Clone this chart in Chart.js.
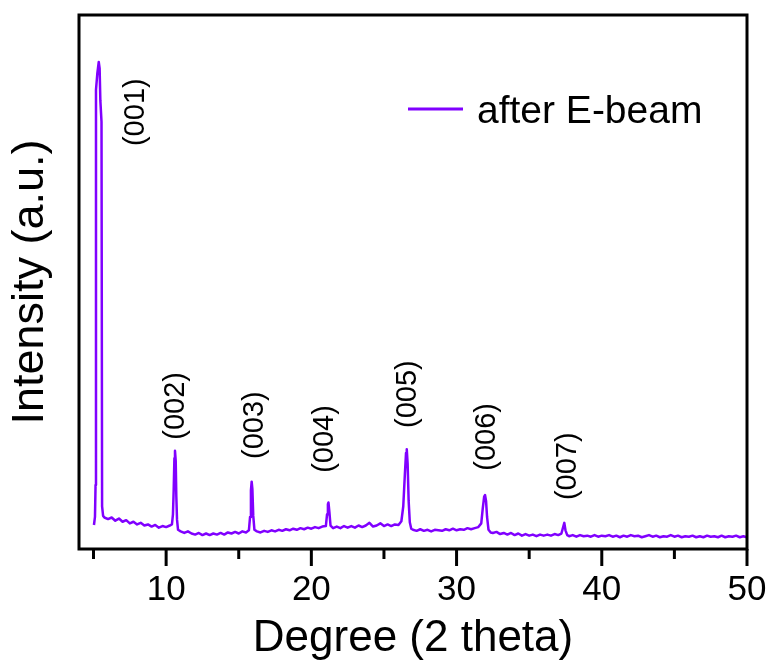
<!DOCTYPE html>
<html>
<head>
<meta charset="utf-8">
<script src="https://cdn.jsdelivr.net/npm/chart.js@4.4.0/dist/chart.umd.min.js"></script>
<style>
body { margin: 0; background: #fff; }
</style>
</head>
<body>
<canvas id="xrd" width="772" height="661"></canvas>
<script>
// 2 theta (deg) and intensity (a.u.)
var twoTheta = [
    5.03, 5.10, 5.14, 5.17, 5.26, 5.36, 5.42, 5.47, 5.55, 5.59, 5.66,
    5.75, 6.0, 6.25, 6.5, 6.75, 7.0, 7.25, 7.5, 7.75, 8.0, 8.25, 8.5, 8.75, 9.0, 9.25, 9.5, 9.75, 10.0, 10.25,
    10.40, 10.47, 10.52, 10.57, 10.61, 10.66, 10.70, 10.75, 10.82,
    11.0, 11.25, 11.5, 11.75, 12.0, 12.25, 12.5, 12.75, 13.0, 13.25, 13.5, 13.75, 14.0, 14.25, 14.5, 14.75, 15.0, 15.25, 15.5, 15.7,
    15.78, 15.84, 15.89, 15.94, 16.0, 16.08,
    16.25, 16.5, 16.75, 17.0, 17.25, 17.5, 17.75, 18.0, 18.25, 18.5, 18.75, 19.0, 19.25, 19.5, 19.75, 20.0, 20.25, 20.5, 20.75, 21.0,
    21.08, 21.14, 21.18, 21.24, 21.32,
    21.5, 21.75, 22.0, 22.25, 22.5, 22.75, 23.0, 23.25, 23.5, 23.75, 24.0, 24.25, 24.5, 24.75, 25.0, 25.25, 25.5, 25.75, 26.0, 26.2,
    26.33, 26.44, 26.52, 26.57, 26.63, 26.70, 26.78, 26.88,
    27.0, 27.25, 27.5, 27.75, 28.0, 28.25, 28.5, 28.75, 29.0, 29.25, 29.5, 29.75, 30.0, 30.25, 30.5, 30.75, 31.0, 31.25, 31.5, 31.7,
    31.8, 31.9, 31.96, 32.03, 32.1, 32.2,
    32.35, 32.5, 32.75, 33.0, 33.25, 33.5, 33.75, 34.0, 34.25, 34.5, 34.75, 35.0, 35.25, 35.5, 35.75, 36.0, 36.25, 36.5, 36.75, 37.0, 37.22,
    37.34, 37.42, 37.5, 37.62,
    37.75, 38.0, 38.25, 38.5, 38.75, 39.0, 39.25, 39.5, 39.75, 40.0, 40.25, 40.5, 40.75, 41.0, 41.25, 41.5, 41.75, 42.0, 42.25, 42.5, 42.75,
    43.0, 43.25, 43.5, 43.75, 44.0, 44.25, 44.5, 44.75, 45.0, 45.25, 45.5, 45.75, 46.0, 46.25, 46.5, 46.75, 47.0, 47.25, 47.5, 47.75,
    48.0, 48.25, 48.5, 48.75, 49.0, 49.25, 49.5, 49.75, 50.0
];
var intensity = [
    4.5, 6.0, 12, 86, 89, 91.2, 90, 84, 80, 8, 6.2,
    5.9, 5.6, 5.9, 5.3, 5.7, 5.1, 5.4, 4.8, 5.1, 4.6, 4.9, 4.4, 4.6, 4.2, 4.5, 4.0, 4.3, 4.1, 4.4,
    4.6, 6.5, 11, 17, 18.4, 16.5, 10, 5.5, 3.6,
    3.3, 3.0, 3.3, 2.9, 2.7, 3.0, 2.6, 2.9, 2.6, 2.9, 2.7, 3.0, 2.7, 3.1, 2.9, 3.2, 2.9, 3.3, 3.1, 3.5,
    6, 11, 12.6, 11.2, 6.2, 3.6,
    3.3, 3.1, 3.4, 3.2, 3.5, 3.3, 3.6, 3.4, 3.7, 3.5, 3.8, 3.6, 3.9, 3.7, 4.0, 3.8, 4.1, 3.9, 4.2, 4.3,
    6.5, 8.4, 8.7, 7, 4.4,
    3.9, 4.2, 3.9, 4.3, 4.0, 4.3, 4.0, 4.4, 4.1, 4.4, 4.9, 4.2, 4.4, 4.8, 4.3, 4.6, 4.3, 4.6, 4.5, 5.2,
    8, 14, 18, 18.7, 16, 9, 5, 3.8,
    3.6, 3.4, 3.7, 3.4, 3.6, 3.3, 3.6, 3.5, 3.4, 3.7, 3.5, 3.8, 3.5, 3.7, 3.6, 3.9, 3.7, 3.9, 4.1, 4.8,
    7.5, 9.8, 10.1, 9, 6, 3.6,
    3.1, 3.0, 3.2, 2.8, 3.0, 2.7, 3.0, 2.6, 2.9, 2.5, 2.8, 2.5, 2.7, 2.4, 2.7, 2.5, 2.7, 2.5, 2.8, 2.6, 2.9,
    4.1, 4.9, 3.5, 2.6,
    2.4, 2.6, 2.3, 2.6, 2.4, 2.5, 2.3, 2.6, 2.3, 2.5, 2.4, 2.6, 2.3, 2.5, 2.2, 2.5, 2.3, 2.6, 2.4, 2.5, 2.2,
    2.4, 2.6, 2.3, 2.5, 2.2, 2.4, 2.3, 2.6, 2.3, 2.5, 2.2, 2.4, 2.3, 2.5, 2.2, 2.4, 2.2, 2.5, 2.3, 2.4,
    2.2, 2.5, 2.2, 2.4, 2.3, 2.5, 2.2, 2.4, 2.2
];

// peak indexing labels and where they sit (data units)
var peakLabels = ['(001)', '(002)', '(003)', '(004)', '(005)', '(006)', '(007)'];
var labelX = [7.93, 10.68, 16.12, 20.94, 26.66, 32.1, 37.68];
var labelY = [81.8, 26.8, 23.2, 20.6, 29.0, 21.0, 15.5];

var xTicks = [5, 10, 15, 20, 25, 30, 35, 40, 45, 50];

var purple = '#8000ff';
var fontFam = '"Liberation Sans", Arial, sans-serif';

var points = [];
for (var i = 0; i < twoTheta.length; i++) {
    points.push({ x: twoTheta[i], y: intensity[i] });
}

var extras = {
    id: 'extras',
    afterDraw: function (chart) {
        var ctx = chart.ctx;
        var a = chart.chartArea;
        var xs = chart.scales.x;
        var ys = chart.scales.y;
        ctx.save();

        // frame
        ctx.strokeStyle = '#000';
        ctx.lineWidth = 3;
        ctx.strokeRect(a.left, a.top, a.right - a.left, a.bottom - a.top);

        // outward ticks, long on the tens
        ctx.lineWidth = 3;
        for (var t = 0; t < xTicks.length; t++) {
            var px = xs.getPixelForValue(xTicks[t]);
            var len = xTicks[t] % 10 === 0 ? 17 : 10;
            ctx.beginPath();
            ctx.moveTo(px, a.bottom);
            ctx.lineTo(px, a.bottom + len);
            ctx.stroke();
        }

        // peak labels
        ctx.fillStyle = '#000';
        ctx.font = '29px ' + fontFam;
        ctx.textAlign = 'center';
        ctx.textBaseline = 'middle';
        for (var k = 0; k < peakLabels.length; k++) {
            ctx.save();
            ctx.translate(xs.getPixelForValue(labelX[k]), ys.getPixelForValue(labelY[k]));
            ctx.rotate(-Math.PI / 2);
            ctx.fillText(peakLabels[k], 0, 0);
            ctx.restore();
        }

        // legend
        var ds = chart.data.datasets[0];
        ctx.strokeStyle = ds.borderColor;
        ctx.lineWidth = 3;
        ctx.beginPath();
        ctx.moveTo(408, 109);
        ctx.lineTo(463, 109);
        ctx.stroke();
        ctx.font = '39px ' + fontFam;
        ctx.textAlign = 'left';
        ctx.textBaseline = 'alphabetic';
        ctx.fillText(ds.label, 477, 123);

        ctx.restore();
    }
};

var ctx = document.getElementById('xrd').getContext('2d');
var xrdChart = new Chart(ctx, {
    type: 'line',
    data: {
        datasets: [{
            label: 'after E-beam',
            data: points,
            borderColor: purple,
            borderWidth: 2.5,
            borderJoinStyle: 'round',
            pointRadius: 0,
            tension: 0,
            fill: false
        }]
    },
    options: {
        responsive: false,
        animation: false,
        devicePixelRatio: 1,
        layout: { padding: { top: 15, right: 25, left: 0, bottom: 0 } },
        plugins: {
            legend: { display: false },
            tooltip: { enabled: false }
        },
        scales: {
            x: {
                type: 'linear',
                min: 4,
                max: 50,
                grid: { display: false, drawTicks: false },
                border: { display: false },
                ticks: {
                    stepSize: 5,
                    autoSkip: false,
                    maxRotation: 0,
                    padding: 20,
                    color: '#000',
                    font: { family: fontFam, size: 35 },
                    callback: function (v) { return v % 10 === 0 ? v : ''; }
                },
                title: {
                    display: true,
                    text: 'Degree (2 theta)',
                    color: '#000',
                    font: { family: fontFam, size: 44, lineHeight: 1 },
                    padding: { top: 0, bottom: 0 }
                },
                afterFit: function (s) {
                    s.height = 112;
                    s.paddingLeft = 0;
                    s.paddingRight = 0;
                }
            },
            y: {
                min: 0,
                max: 100,
                grid: { display: false, drawTicks: false },
                border: { display: false },
                ticks: { display: false },
                title: {
                    display: true,
                    text: 'Intensity (a.u.)',
                    color: '#000',
                    font: { family: fontFam, size: 45, lineHeight: 1 },
                    padding: { top: 8, bottom: 0 }
                },
                afterFit: function (s) {
                    s.width = 79;
                    s.paddingTop = 0;
                    s.paddingBottom = 0;
                }
            }
        }
    },
    plugins: [extras]
});
</script>
</body>
</html>
